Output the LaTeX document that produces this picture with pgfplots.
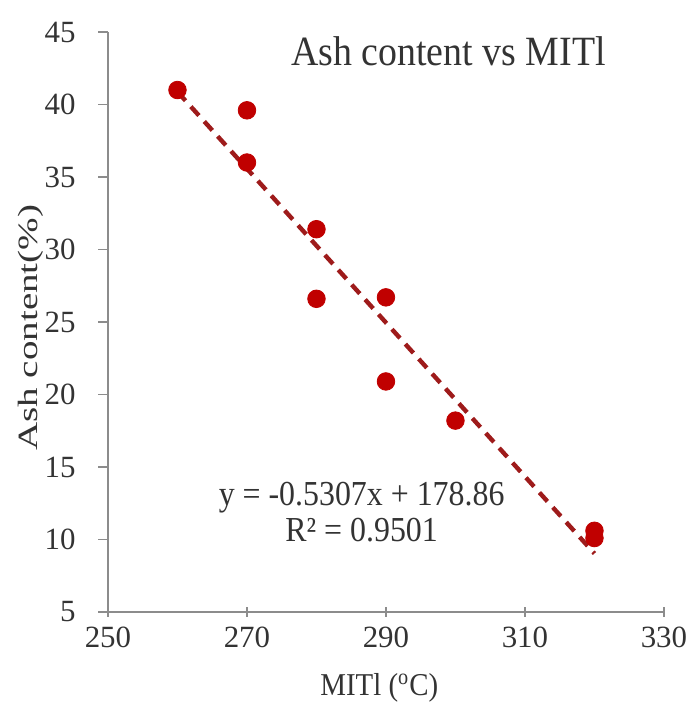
\documentclass[border=0pt]{standalone}
\usepackage{fontspec}
\setmainfont{Liberation Serif}
\usepackage{graphicx}
\usepackage{pgfplots}
\pgfplotsset{compat=1.18}
\definecolor{dotred}{HTML}{C00000}
\definecolor{trendred}{HTML}{9E1B1B}
\definecolor{axisgray}{HTML}{8C8C8C}
\definecolor{txt}{HTML}{333333}
\begin{document}
\begin{tikzpicture}
\begin{axis}[
  scale only axis, width=278bp, height=290bp,
  xmin=250, xmax=330, ymin=5, ymax=45,
  xtick={250,270,...,330}, ytick={5,10,...,45},
  axis x line*=bottom, axis y line*=left,
  axis line style={axisgray, line width=0.8pt, -},
  tick style={axisgray, line width=0.8pt},
  xtick align=center, ytick align=outside,
  major tick length=5pt,
  tick label style={font=\fontsize{15.5}{15.5}\selectfont, color=txt, inner sep=0pt},
  xticklabel style={yshift=-5bp},
  yticklabel style={xshift=-11bp},
  /pgf/number format/assume math mode=true,
  xlabel={\scalebox{1}[1.1]{MITl (\textsuperscript{o}C)}},
  ylabel={\scalebox{1.4}[1]{Ash content(\%)}},
  xlabel style={font=\fontsize{14.5}{14.5}\selectfont, color=txt, at={(rel axis cs:0.488,-0.131)}, anchor=center},
  ylabel style={font=\fontsize{14}{14}\selectfont, color=txt, at={(rel axis cs:-0.138,0.49)}, anchor=center},
  clip=false,
]
\addplot[trendred, line width=2.2pt, dash pattern=on 6bp off 4bp] coordinates {(260,40.878) (320,9.036)};
\addplot[only marks, mark=*, mark size=4.4bp, mark options={fill=dotred, draw=dotred}] coordinates {
  (260,41.0) (270,39.6) (270,36.0) (280,31.4) (280,26.6)
  (290,26.7) (290,20.9) (300,18.2) (320,10.6) (320,10.1)};
\node[font=\fontsize{19}{19}\selectfont, color=txt] at (axis cs:299.0,43.7) {\scalebox{1}[1.1]{Ash content vs MITl}};
\node[font=\fontsize{16}{16}\selectfont, color=txt, align=center, inner sep=0pt] at (axis cs:286.5,11.9)
  {\scalebox{1}[1.1]{y = -0.5307x + 178.86}\\[2pt]\scalebox{1}[1.1]{R² = 0.9501}};
\coordinate (bl) at (rel axis cs:-0.1942,-0.1621);
\coordinate (tr) at (rel axis cs:1.0576,1.0552);
\end{axis}
\pgfresetboundingbox
\useasboundingbox (bl) rectangle (tr);
\end{tikzpicture}
\end{document}
